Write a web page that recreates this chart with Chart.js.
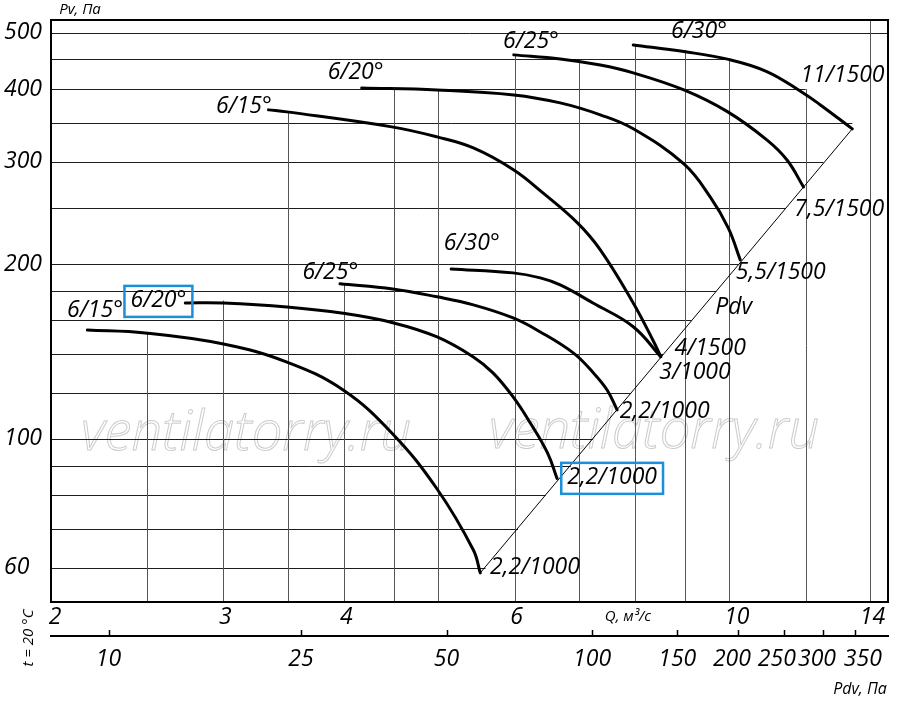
<!DOCTYPE html>
<html>
<head>
<meta charset="utf-8">
<script src="https://cdn.jsdelivr.net/npm/chart.js@4.4.1/dist/chart.umd.min.js"></script>
<style>
  html, body { margin: 0; padding: 0; background: #fff; }
  #wrap { width: 900px; height: 706px; }
</style>
</head>
<body>
<div id="wrap"><canvas id="chart" width="900" height="706"></canvas></div>
<script>
// axis ranges (Q, м³/с — Pv, Па), log-log
const Q_MIN = 1.99, Q_MAX = 14.6;
const PV_MIN = 52.4, PV_MAX = 526;
const PDV_K = 1.92; // Pdv = k·Q², bottom scale

const qTicks = [2, 3, 4, 6, 10, 14];
const pvTicks = [60, 100, 200, 300, 400, 500];
const pdvTicks = [10, 25, 50, 100, 150, 200, 250, 300, 350];

// grid of the nomogram (lines are cut by the curves / Pdv line)
const qGrid = [2.5, 3, 3.5, 4, 4.5, 5, 6, 7, 8, 9, 10, 12, 14];
const qGridTop = [152, 173, 365, 185, 400, 400, 458, 446, 476, 467, 452, 400, PV_MAX];
const pvGrid = [60, 70, 80, 90, 100, 120, 140, 160, 180, 200, 250, 300, 350, 400, 450, 500];
const pvGridEnd = [5.6, 6.05, 6.46, 6.86, 7.23, 7.92, 8.55, 9.14, 9.7, 10.22, 11.43, 12.52, 13.41, 12, 10, Q_MAX];

// 1000 об/мин
const q_1000_15 = [2.17, 2.49, 3.0, 3.49, 3.99, 4.49, 4.99, 5.44, 5.53];
const pv_1000_15 = [154, 152.2, 145.7, 135.6, 121.4, 102, 82, 64.4, 58.8];
const q_1000_20 = [2.74, 3.0, 3.49, 3.99, 4.49, 4.99, 5.44, 5.7, 5.98, 6.23, 6.49, 6.64];
const pv_1000_20 = [171.4, 171.3, 168.7, 164.5, 158.5, 149.8, 138.4, 129.9, 118.1, 106.5, 94.6, 85.5];
const q_1000_25 = [3.96, 4.49, 4.99, 5.44, 5.98, 6.38, 6.9, 7.24, 7.48, 7.66];
const pv_1000_25 = [184.9, 181.2, 175.6, 170.1, 161.5, 152.8, 140.6, 129.9, 121.4, 112.2];
const q_1000_30 = [5.16, 5.98, 6.38, 6.69, 7.24, 7.96, 8.5];
const pv_1000_30 = [196.1, 193.1, 189.3, 184.1, 171.2, 156, 138.5];

// 1500 об/мин
const q_1500_15 = [3.34, 3.49, 4.48, 4.99, 5.44, 5.99, 6.42, 6.97, 7.36, 7.96, 8.35, 8.5];
const pv_1500_15 = [368.4, 365.5, 344.4, 331, 316.9, 290.4, 265.1, 235.4, 211.5, 171.4, 147.4, 138.5];
const q_1500_20 = [4.17, 4.99, 5.99, 6.69, 7.36, 7.96, 8.98, 9.56, 9.98, 10.27];
const pv_1500_20 = [401.8, 398.7, 390.9, 378.7, 361.2, 341.8, 297.3, 261, 230.8, 203.3];
const q_1500_25 = [5.99, 6.69, 7.36, 7.96, 8.98, 9.96, 10.94, 11.48, 11.94];
const pv_1500_25 = [458.1, 450.8, 440, 426.6, 398.7, 365.8, 327.1, 302, 271.4];
const q_1500_30 = [7.96, 8.98, 9.96, 10.94, 11.94, 12.43, 13.41];
const pv_1500_30 = [476.5, 464.1, 450.4, 428.8, 393.6, 375.7, 341.7];

// Pdv line
const q_pdv = [5.53, 13.41];
const pv_pdv = [58.8, 341.7];

// curve captions
const labelText = ['6/15°', '6/20°', '6/25°', '6/30°', '6/15°', '6/20°', '6/25°', '6/30°',
  '11/1500', '7,5/1500', '5,5/1500', 'Pdv', '4/1500', '3/1000', '2,2/1000', '2,2/1000', '2,2/1000'];
const labelQ = [2.21, 2.57, 3.87, 5.42, 3.15, 4.11, 6.24, 9.31, 13.1, 13.0, 11.31, 10.11, 9.56, 9.22, 8.58, 7.57, 6.3];
const labelPv = [166.1, 172.8, 193.1, 217.4, 372.7, 426.6, 482.4, 501.8, 421.5, 247.8, 193.1, 168.7, 142.9, 129.9, 111.3, 85.7, 60.2];
const boxedLabels = [1, 15];

const FONT = '"Open Sans", "DejaVu Sans", sans-serif';

function pts(qs, pvs) { return qs.map((q, i) => ({ x: q, y: pvs[i] })); }

function curve(qs, pvs) {
  return { data: pts(qs, pvs), borderColor: '#000', borderWidth: 3, pointRadius: 0,
    tension: 0.4, fill: false, borderCapStyle: 'round' };
}

const nomogram = {
  id: 'nomogram',
  beforeDatasetsDraw(chart) {
    const { ctx, chartArea: a, scales: { x, y } } = chart;
    ctx.save();

    // watermark
    ctx.font = 'italic 300 60px ' + FONT;
    const wm = 'ventilatorry.ru';
    const size = 60 * 330 / ctx.measureText(wm).width;
    ctx.font = 'italic 300 ' + size.toFixed(1) + 'px ' + FONT;
    ctx.strokeStyle = '#cccccc';
    ctx.lineWidth = 1;
    ctx.textAlign = 'left';
    ctx.textBaseline = 'alphabetic';
    ctx.strokeText(wm, a.left + 30, a.bottom - 152);
    ctx.strokeText(wm, a.left + 438, a.bottom - 154);

    // horizontal grid
    ctx.strokeStyle = '#1e1e1e';
    ctx.lineWidth = 1;
    pvGrid.forEach((v, i) => {
      const py = Math.round(y.getPixelForValue(v)) + 0.5;
      ctx.beginPath();
      ctx.moveTo(a.left, py);
      ctx.lineTo(x.getPixelForValue(pvGridEnd[i]), py);
      ctx.stroke();
    });
    // vertical grid
    ctx.strokeStyle = '#555';
    qGrid.forEach((v, i) => {
      const px = Math.round(x.getPixelForValue(v)) + 0.5;
      ctx.beginPath();
      ctx.moveTo(px, y.getPixelForValue(qGridTop[i]));
      ctx.lineTo(px, a.bottom);
      ctx.stroke();
    });
    ctx.restore();
  },
  afterDatasetsDraw(chart) {
    const { ctx, chartArea: a, scales: { x, y, x2 } } = chart;
    ctx.save();

    // frame
    ctx.strokeStyle = '#000';
    ctx.lineWidth = 2;
    ctx.strokeRect(a.left, a.top, a.right - a.left, a.bottom - a.top);

    // captions
    ctx.fillStyle = '#000';
    ctx.textAlign = 'center';
    ctx.textBaseline = 'middle';
    ctx.font = 'italic 23px ' + FONT;
    labelText.forEach((t, i) => {
      const px = x.getPixelForValue(labelQ[i]);
      const py = y.getPixelForValue(labelPv[i]);
      ctx.fillText(t, px, py);
      if (boxedLabels.includes(i)) {
        const w = ctx.measureText(t).width + 12;
        ctx.strokeStyle = '#1b8fd9';
        ctx.lineWidth = 2.5;
        ctx.strokeRect(px - w / 2, py - 15, w, 31);
      }
    });

    // axis titles
    ctx.font = 'italic 15px ' + FONT;
    ctx.fillText('Pv, Па', a.left + 29, a.top - 10);
    ctx.fillText('Q, м³/с', x.getPixelForValue(7.86), a.bottom + 15);
    ctx.font = 'italic 16px ' + FONT;
    ctx.fillText('Pdv, Па', a.right - 28, a.bottom + 87);
    ctx.save();
    ctx.translate(a.left - 22, a.bottom + 36);
    ctx.rotate(-Math.PI / 2);
    ctx.font = 'italic 15px ' + FONT;
    ctx.fillText('t = 20 °C', 0, 0);
    ctx.restore();

    // Pdv tick marks (pointing up)
    ctx.strokeStyle = '#000';
    ctx.lineWidth = 1.5;
    pdvTicks.forEach(v => {
      const px = Math.round(x2.getPixelForValue(v)) + 0.5;
      ctx.beginPath();
      ctx.moveTo(px, x2.top);
      ctx.lineTo(px, x2.top - 6);
      ctx.stroke();
    });
    ctx.restore();
  }
};

const tickFont = { family: FONT, size: 23, style: 'italic' };

new Chart(document.getElementById('chart'), {
  type: 'line',
  data: {
    datasets: [
      { data: pts(q_pdv, pv_pdv), borderColor: '#000', borderWidth: 1, pointRadius: 0, tension: 0, fill: false },
      curve(q_1000_15, pv_1000_15),
      curve(q_1000_20, pv_1000_20),
      curve(q_1000_25, pv_1000_25),
      curve(q_1000_30, pv_1000_30),
      curve(q_1500_15, pv_1500_15),
      curve(q_1500_20, pv_1500_20),
      curve(q_1500_25, pv_1500_25),
      curve(q_1500_30, pv_1500_30)
    ]
  },
  options: {
    responsive: false,
    animation: false,
    layout: { padding: { top: 20, right: 12, left: 4, bottom: 0 } },
    plugins: { legend: { display: false }, tooltip: { enabled: false } },
    scales: {
      x: {
        type: 'logarithmic', position: 'bottom', min: Q_MIN, max: Q_MAX,
        afterBuildTicks: s => { s.ticks = qTicks.map(v => ({ value: v })); },
        afterFit: s => { s.height = 34; },
        grid: { display: false, drawTicks: false },
        border: { display: false },
        ticks: { font: tickFont, color: '#000', padding: 2, labelOffset: 2, autoSkip: false, maxRotation: 0,
          // the printed "10" sits a little right of its line
          callback: v => (v === 10 ? '\u2002' + v : String(v)) }
      },
      x2: {
        type: 'logarithmic', position: 'bottom',
        min: PDV_K * Q_MIN * Q_MIN, max: PDV_K * Q_MAX * Q_MAX,
        afterBuildTicks: s => { s.ticks = pdvTicks.map(v => ({ value: v })); },
        afterFit: s => { s.height = 70; },
        grid: { display: false, drawTicks: false },
        border: { display: true, color: '#000', width: 2 },
        ticks: { font: tickFont, color: '#000', padding: 10, autoSkip: false, maxRotation: 0,
          // crowded labels at the right end are spread apart as in the print
          callback: v => (v === 350 ? '\u2002\u2009' + v : v === 250 ? v + '\u2002\u2009' : v >= 200 ? v + '\u2002' : String(v)) }
      },
      y: {
        type: 'logarithmic', position: 'left', min: PV_MIN, max: PV_MAX,
        afterBuildTicks: s => { s.ticks = pvTicks.map(v => ({ value: v })); },
        afterFit: s => { s.width = 47; },
        grid: { display: false, drawTicks: false },
        border: { display: false },
        ticks: { font: tickFont, color: '#000', crossAlign: 'far', autoSkip: false,
          callback: v => String(v) }
      }
    }
  },
  plugins: [nomogram]
});
</script>
</body>
</html>
